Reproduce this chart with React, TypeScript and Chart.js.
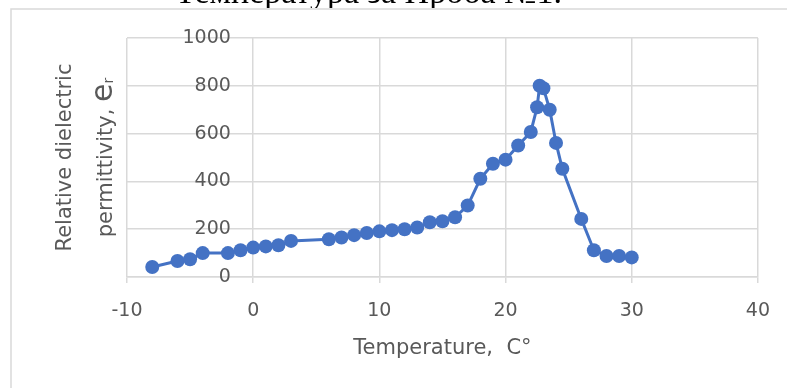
import { useEffect, useRef } from 'react';
import { Chart, registerables } from 'chart.js';

Chart.register(...registerables);

// ---- data ----
const temperatures = [-8, -6, -5, -4, -2, -1, 0, 1, 2, 3, 6, 7, 8, 9, 10, 11, 12, 13, 14, 15, 16, 17, 18, 19, 20, 21, 22, 22.5, 22.7, 23, 23.5, 24, 24.5, 26, 27, 28, 29, 30];
const permittivity = [42, 67, 74, 100, 100, 112, 123, 128, 133, 151, 158, 165, 175, 184, 191, 196, 200, 207, 229, 233, 250, 299, 411, 474, 491, 550, 607, 710, 800, 790, 700, 561, 453, 243, 112, 88, 88, 82];

const X_MIN = -10;
const X_MAX = 40;
const X_STEP = 10;
const Y_MIN = 0;
const Y_MAX = 1000;
const Y_STEP = 200;

const X_TITLE = 'Temperature,  C°';
const Y_TITLE_LINE1 = 'Relative dielectric';
const Y_TITLE_LINE2 = 'permittivity, ';
const Y_TITLE_SYMBOL = 'e';
const Y_TITLE_SUB = 'r';
const DOC_TEXT = 'Температура за Проба №1.';

// ---- styles ----
const FONT = '"DejaVu Sans", sans-serif';
const TEXT_COLOR = '#595959';
const GRID_COLOR = '#d9d9d9';
const SERIES_COLOR = '#4472C4';

const framePlugin = {
  id: 'frame',
  beforeDraw(chart: any) {
    const ctx = chart.ctx as CanvasRenderingContext2D;
    const w = chart.width;
    const h = chart.height;
    ctx.save();
    ctx.fillStyle = '#ffffff';
    ctx.fillRect(0, 0, w, h);
    // cut-off document text at the very top
    ctx.save();
    ctx.beginPath();
    ctx.rect(0, 0, w, 8);
    ctx.clip();
    ctx.fillStyle = '#000000';
    ctx.font = '34px "Liberation Serif", serif';
    ctx.textBaseline = 'alphabetic';
    ctx.textAlign = 'left';
    ctx.fillText(DOC_TEXT, 175, 3);
    ctx.restore();
    // chart frame
    ctx.strokeStyle = GRID_COLOR;
    ctx.lineWidth = 1.5;
    ctx.beginPath();
    ctx.moveTo(w, 9);
    ctx.lineTo(11, 9);
    ctx.lineTo(11, h);
    ctx.stroke();
    ctx.restore();
  },
  afterDraw(chart: any) {
    const ctx = chart.ctx as CanvasRenderingContext2D;
    const area = chart.chartArea;
    const cy = (area.top + area.bottom) / 2;
    ctx.save();
    ctx.fillStyle = TEXT_COLOR;
    ctx.translate(71, cy);
    ctx.rotate(-Math.PI / 2);
    ctx.textBaseline = 'alphabetic';
    ctx.textAlign = 'center';
    ctx.font = '21px ' + FONT;
    ctx.fillText(Y_TITLE_LINE1, 0, 0);
    // second line with symbol
    ctx.textAlign = 'left';
    ctx.font = '21px ' + FONT;
    const w1 = ctx.measureText(Y_TITLE_LINE2).width;
    ctx.font = '30px ' + FONT;
    const w2 = ctx.measureText(Y_TITLE_SYMBOL).width;
    ctx.font = '14px ' + FONT;
    const w3 = ctx.measureText(Y_TITLE_SUB).width;
    const total = w1 + w2 + w3;
    let x = -total / 2;
    const base = 41;
    ctx.font = '21px ' + FONT;
    ctx.fillText(Y_TITLE_LINE2, x, base);
    x += w1;
    ctx.font = '30px ' + FONT;
    ctx.fillText(Y_TITLE_SYMBOL, x, base);
    x += w2;
    ctx.font = '14px ' + FONT;
    ctx.fillText(Y_TITLE_SUB, x, base + 1);
    ctx.restore();
  },
};

export default function App() {
  const canvasRef = useRef<HTMLCanvasElement | null>(null);

  useEffect(() => {
    if (!canvasRef.current) return;
    const chart = new Chart(canvasRef.current, {
      type: 'scatter',
      data: {
        datasets: [
          {
            data: temperatures.map((t, i) => ({ x: t, y: permittivity[i] })),
            showLine: true,
            borderColor: SERIES_COLOR,
            backgroundColor: SERIES_COLOR,
            borderWidth: 3,
            pointRadius: 7,
            pointBorderWidth: 0,
            pointBackgroundColor: SERIES_COLOR,
            tension: 0,
          },
        ],
      },
      options: {
        responsive: false,
        animation: false,
        devicePixelRatio: 1,
        layout: { padding: { left: 127, right: 28, top: 38, bottom: 0 } },
        plugins: {
          legend: { display: false },
          tooltip: { enabled: false },
          title: { display: false },
        },
        scales: {
          x: {
            type: 'linear',
            min: X_MIN,
            max: X_MAX,
            ticks: {
              stepSize: X_STEP,
              color: TEXT_COLOR,
              font: { family: FONT, size: 19 },
              padding: 17,
              maxRotation: 0,
              callback: (v: any) => String(v),
            },
            grid: { color: GRID_COLOR, lineWidth: 1.5, tickLength: 6, drawTicks: true },
            border: { display: true, color: GRID_COLOR, width: 1.5 },
            title: {
              display: true,
              text: X_TITLE,
              color: TEXT_COLOR,
              font: { family: FONT, size: 21 },
              padding: { top: -4, bottom: 27 },
            },
          },
          y: {
            type: 'linear',
            position: { x: -1.77 },
            min: Y_MIN,
            max: Y_MAX,
            ticks: {
              stepSize: Y_STEP,
              color: TEXT_COLOR,
              font: { family: FONT, size: 19 },
              callback: (v: any) => String(v),
            },
            grid: { color: GRID_COLOR, lineWidth: 1.5, drawTicks: false },
            border: { display: false },
          },
        },
      },
      plugins: [framePlugin],
    } as any);
    return () => chart.destroy();
  }, []);

  return (
    <div style={{ position: 'fixed', left: 0, top: 0, width: 787, height: 388, background: '#fff' }}>
      <canvas ref={canvasRef} width={787} height={388} style={{ display: 'block', width: 787, height: 388 }} />
    </div>
  );
}
